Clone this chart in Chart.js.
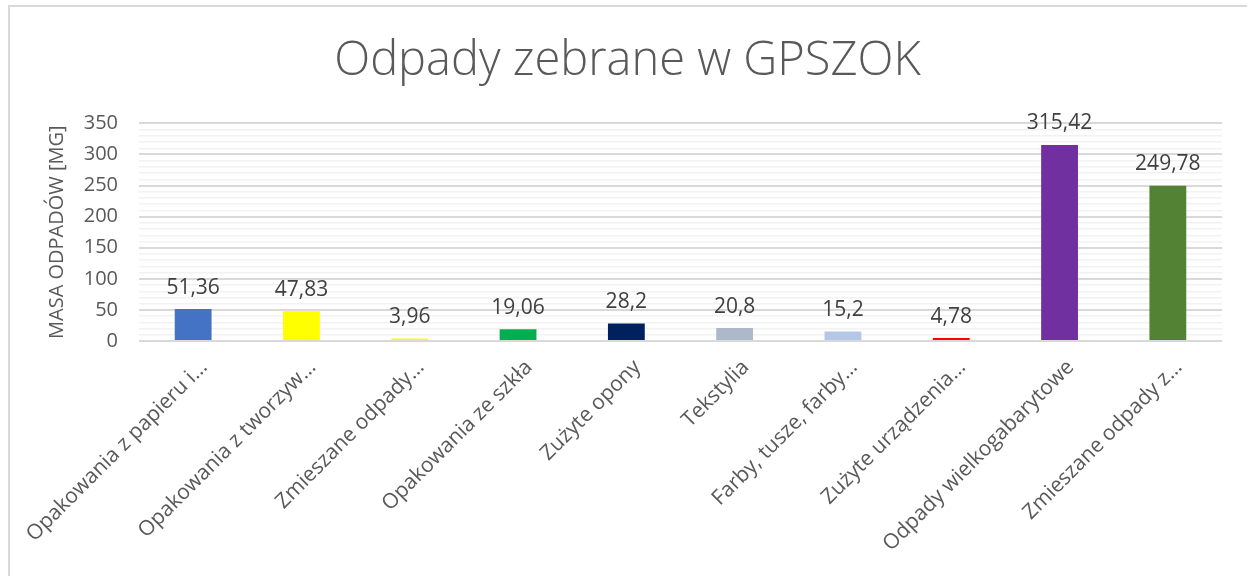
<!DOCTYPE html>
<html lang="pl">
<head>
    <meta charset="UTF-8">
    <title>Odpady zebrane w GPSZOK</title>
    <script src="https://cdn.jsdelivr.net/npm/chart.js"></script>
    <style>
        body {
            margin: 0;
            padding: 0;
            background: #ffffff;
        }
        #wrap {
            position: relative;
            width: 1247px;
            height: 576px;
        }
        /* ramka wykresu (widoczna tylko lewa i górna krawędź) */
        #frame {
            position: absolute;
            left: 8px;
            top: 5px;
            right: -10px;
            bottom: -10px;
            border-left: 2px solid #d9d9d9;
            border-top: 2px solid #d9d9d9;
            pointer-events: none;
        }
    </style>
</head>
<body>
<div id="wrap">
    <canvas id="chart" width="1247" height="576"></canvas>
    <div id="frame"></div>
</div>

<script>
    // dane z wykresu
    const kategorie = [
        'Opakowania z papieru i…',
        'Opakowania z tworzyw…',
        'Zmieszane odpady…',
        'Opakowania ze szkła',
        'Zużyte opony',
        'Tekstylia',
        'Farby, tusze, farby…',
        'Zużyte urządzenia…',
        'Odpady wielkogabarytowe',
        'Zmieszane odpady z…'
    ];
    const masa = [51.36, 47.83, 3.96, 19.06, 28.2, 20.8, 15.2, 4.78, 315.42, 249.78];
    const kolory = ['#4472C4', '#FFFF00', '#FFFF00', '#00B050', '#002060',
                    '#ADB9CA', '#B4C7E7', '#FF0000', '#7030A0', '#548235'];
    const osY = { min: 0, max: 350, krokGlowny: 50, krokPomocniczy: 10 };

    const czcionka = "'Open Sans', 'Noto Sans', sans-serif";
    const szary = '#595959';

    // etykiety wartości nad słupkami
    const etykietyDanych = {
        id: 'etykietyDanych',
        afterDatasetsDraw(chart) {
            const ctx = chart.ctx;
            const meta = chart.getDatasetMeta(0);
            ctx.save();
            ctx.font = '21px ' + czcionka;
            ctx.fillStyle = '#404040';
            ctx.textAlign = 'center';
            ctx.textBaseline = 'bottom';
            meta.data.forEach((bar, i) => {
                const txt = String(masa[i]).replace('.', ',');
                ctx.fillText(txt, bar.x, bar.y - 11);
            });
            ctx.restore();
        }
    };

    const ctx = document.getElementById('chart').getContext('2d');
    new Chart(ctx, {
        type: 'bar',
        data: {
            labels: kategorie,
            datasets: [{
                data: masa,
                backgroundColor: kolory,
                borderWidth: 0,
                categoryPercentage: 1,
                barPercentage: 0.34
            }]
        },
        options: {
            responsive: false,
            animation: false,
            layout: {
                padding: { left: 8, right: 0, top: 0, bottom: 0 }
            },
            plugins: {
                legend: { display: false },
                tooltip: { enabled: false },
                title: {
                    display: true,
                    text: 'Odpady zebrane w GPSZOK',
                    color: szary,
                    font: { family: czcionka, size: 47, weight: '300' },
                    padding: { top: 33, bottom: 34 }
                }
            },
            scales: {
                x: {
                    grid: { display: false },
                    border: { display: false },
                    afterFit: s => { s.height = 235; },
                    ticks: {
                        color: szary,
                        font: { family: czcionka, size: 21 },
                        maxRotation: 45,
                        minRotation: 45,
                        autoSkip: false,
                        labelOffset: 11,
                        padding: 6
                    }
                },
                y: {
                    min: osY.min,
                    max: osY.max,
                    border: { display: false },
                    afterFit: s => { s.width = 131; },
                    grid: {
                        drawTicks: false,
                        color: c => (c.tick.value % osY.krokGlowny === 0 ? '#d9d9d9' : '#f2f2f2'),
                        lineWidth: c => (c.tick.value % osY.krokGlowny === 0 ? 2 : 1.5)
                    },
                    ticks: {
                        stepSize: osY.krokPomocniczy,
                        autoSkip: false,
                        color: szary,
                        font: { family: czcionka, size: 20 },
                        padding: 21,
                        callback: v => (v % osY.krokGlowny === 0 ? v : '')
                    },
                    title: {
                        display: true,
                        text: 'MASA ODPADÓW [MG]',
                        color: szary,
                        font: { family: czcionka, size: 20 },
                        padding: { top: 37, bottom: 0 }
                    }
                },
                // pusta oś po prawej, zostawia margines jak w oryginale
                prawa: {
                    type: 'linear',
                    position: 'right',
                    display: true,
                    grid: { display: false },
                    border: { display: false },
                    ticks: { display: false },
                    afterFit: s => { s.width = 25; }
                }
            }
        },
        plugins: [etykietyDanych]
    });
</script>
</body>
</html>
